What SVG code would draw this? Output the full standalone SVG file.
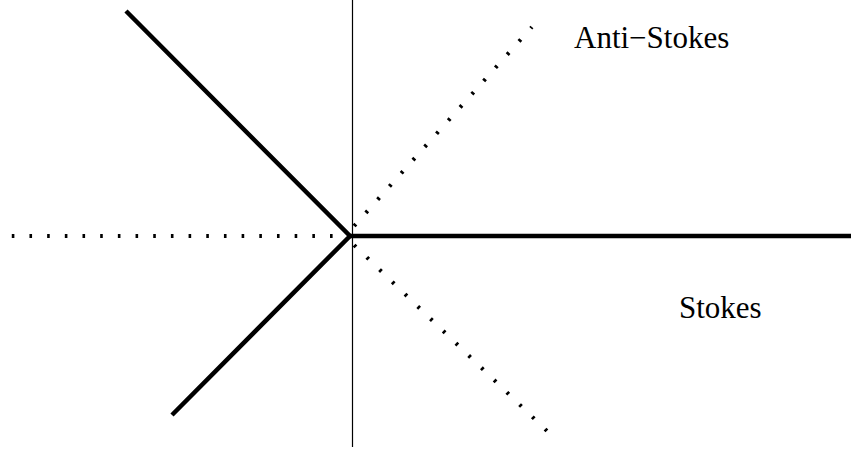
<svg xmlns="http://www.w3.org/2000/svg" width="851" height="453" viewBox="0 0 851 453">
<style>
.solid{stroke:#000;stroke-width:4.5;fill:none;stroke-linecap:butt}
.dot{stroke:#000;stroke-width:4;fill:none;stroke-dasharray:2.6 15.08}
.axis{stroke:#000;stroke-width:1.2;fill:none}
.lbl{font-family:"Liberation Serif","Times New Roman",serif;font-size:31px;fill:#000}
</style>
<rect width="851" height="453" fill="#fff"/>
<g id="connectors">
<path class="axis" d="M352.5 0 V447"/>
<path class="solid" d="M126 11 L350 236 L172 415"/>
<path class="solid" d="M348 236 H851"/>
<path class="dot" d="M350.3 236 H11"/>
<path class="dot" d="M354.1 226 L531.9 27"/>
<path class="dot" d="M354.1 245.1 L546.9 430.9"/>
</g>
<g id="label-anti-stokes"><text class="lbl" x="574" y="48">Anti−Stokes</text></g>
<g id="label-stokes"><text class="lbl" x="679" y="318">Stokes</text></g>
</svg>
